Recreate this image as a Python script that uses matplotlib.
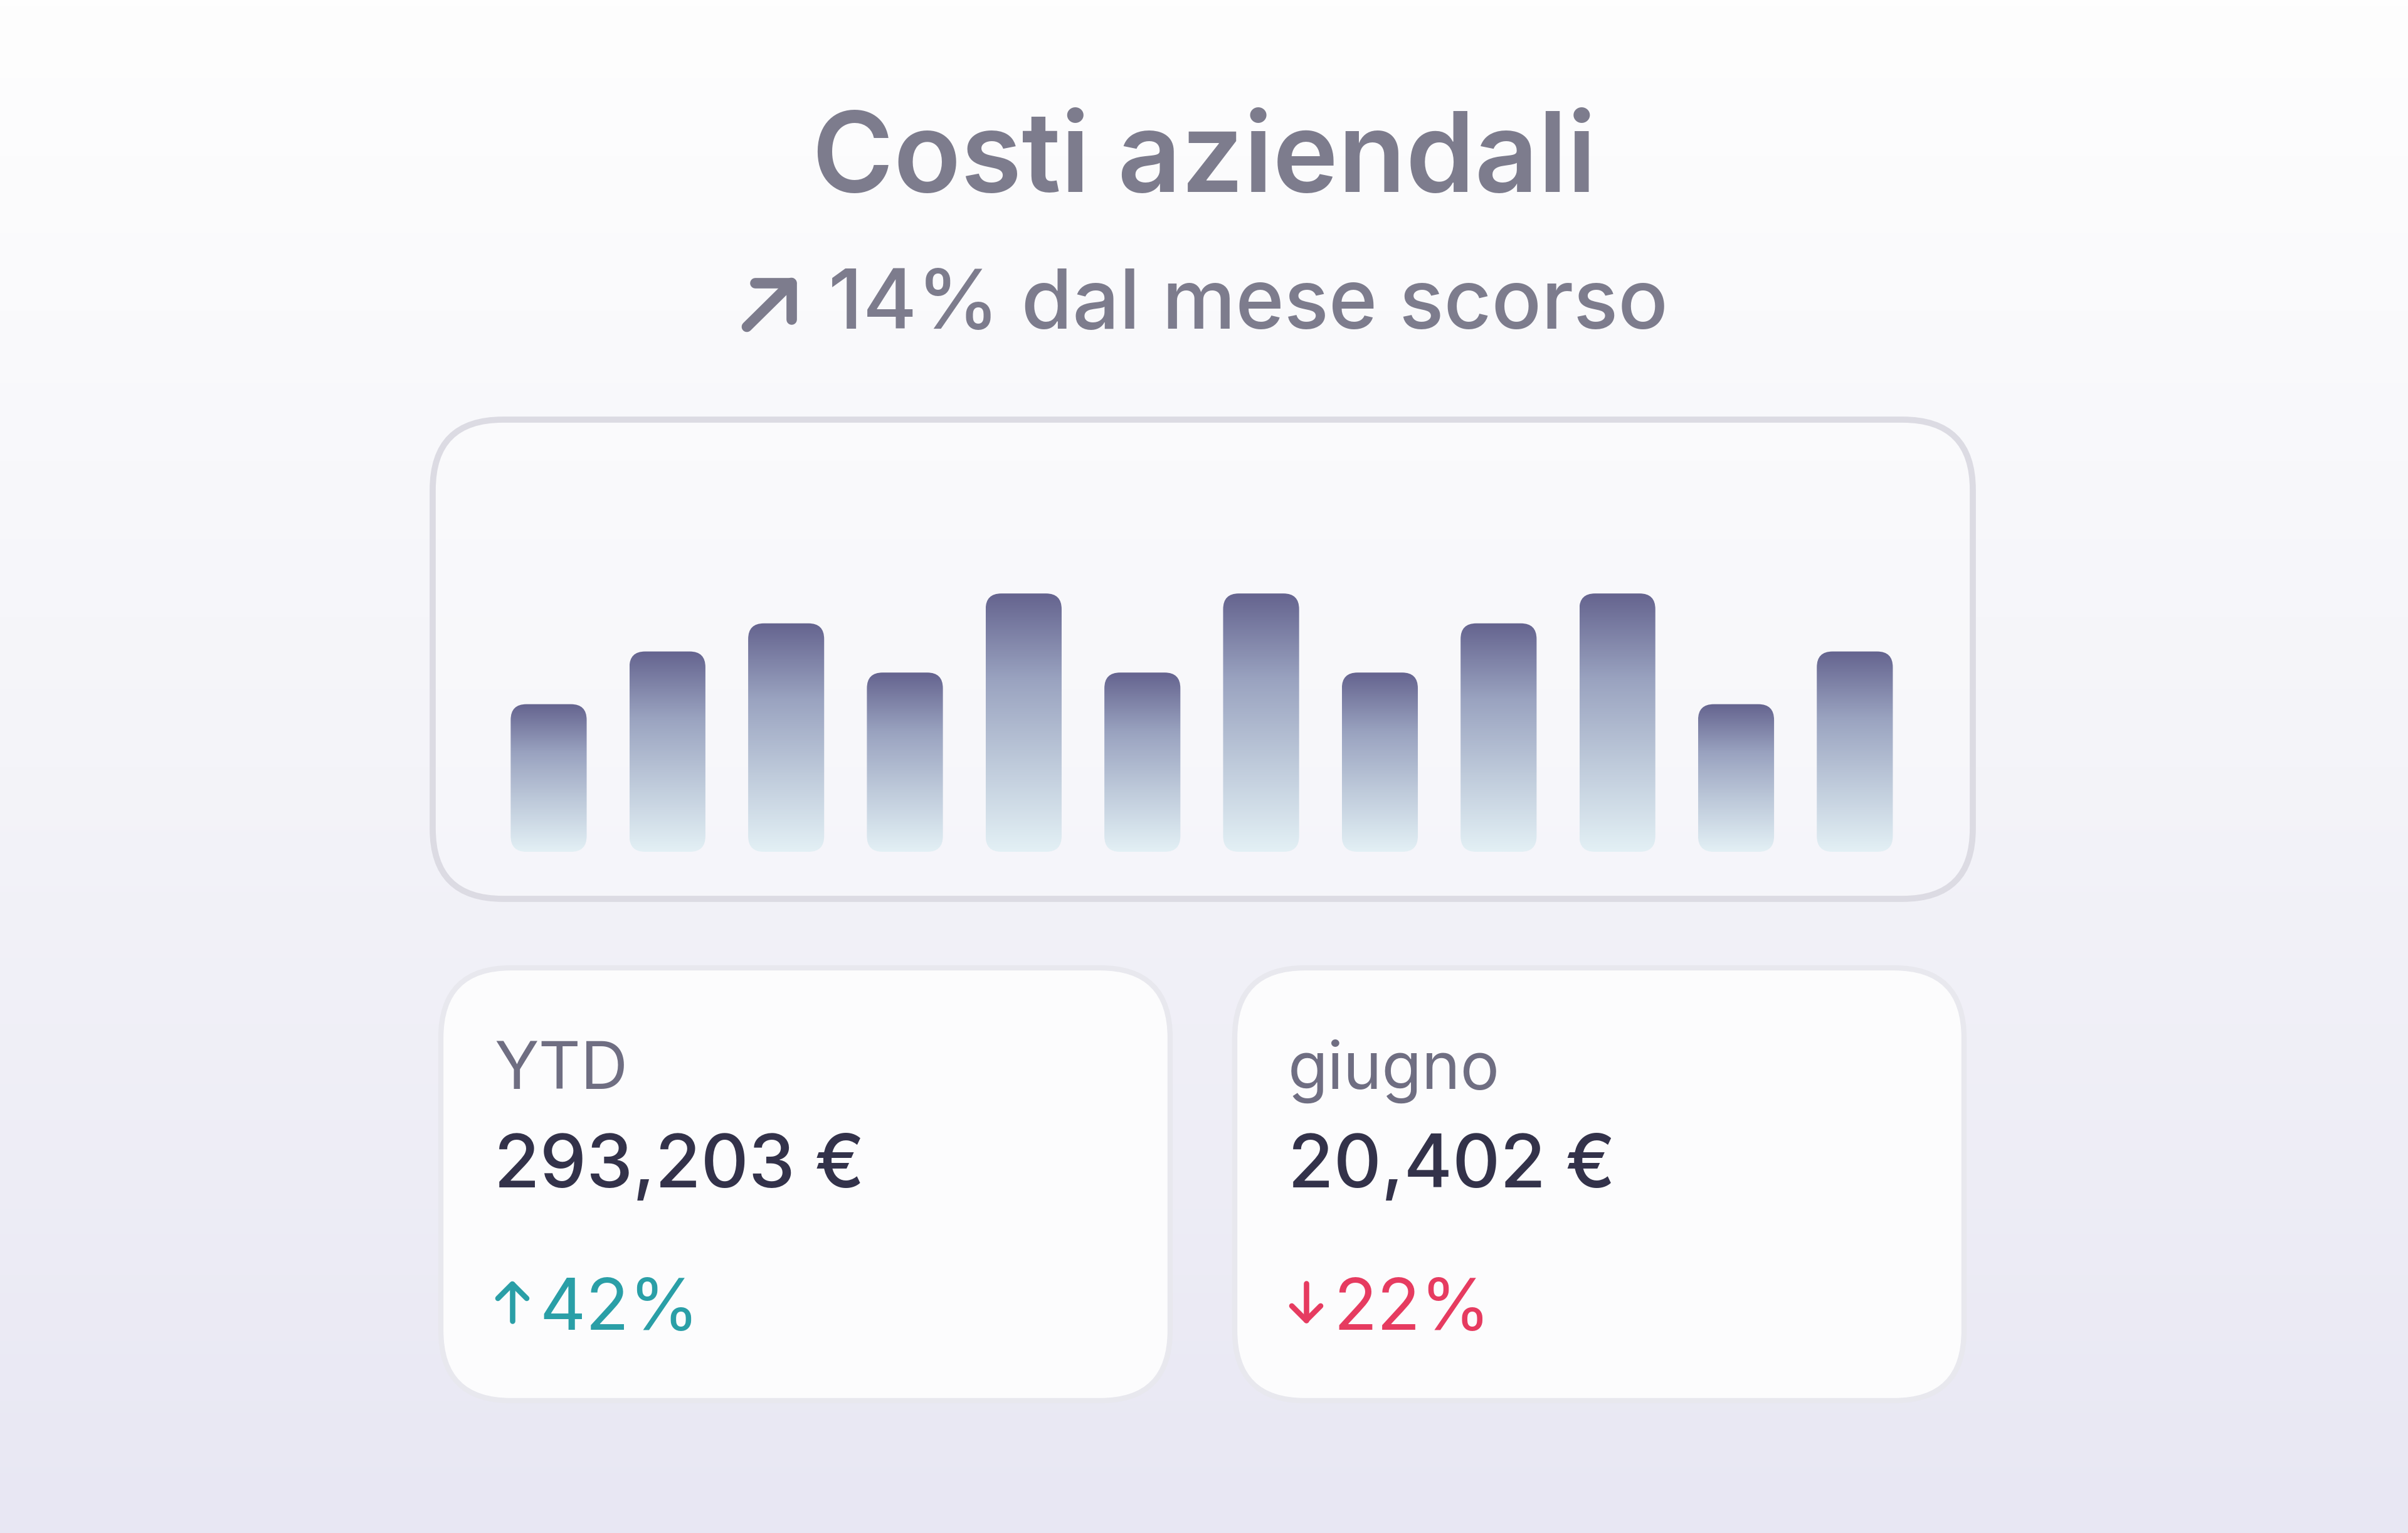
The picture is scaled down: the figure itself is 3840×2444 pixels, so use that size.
import numpy as np
import matplotlib
matplotlib.use("Agg")
import matplotlib.pyplot as plt
from matplotlib.patches import FancyBboxPatch
from matplotlib.colors import LinearSegmentedColormap
from matplotlib.lines import Line2D

# ---------------- data ----------------
months = ["gen", "feb", "mar", "apr", "mag", "giu", "lug", "ago", "set", "ott", "nov", "dic"]
costs = [16.8, 22.8, 26.0, 20.4, 29.4, 20.4, 29.4, 20.4, 26.0, 29.4, 16.8, 22.8]
title = "Costi aziendali"
subtitle = "14% dal mese scorso"
card_labels = ["YTD", "giugno"]
card_values = ["293,203 €", "20,402 €"]
card_changes = ["42%", "22%"]
card_dirs = ["up", "down"]

# ---------------- figure ----------------
W, H = 3840, 2444
DPI = 100
fig = plt.figure(figsize=(W / DPI, H / DPI), dpi=DPI)
FONT = ["Inter", "DejaVu Sans"]

# background layer in pixel coordinates (y downward)
bg = fig.add_axes([0, 0, 1, 1])
bg.axis("off")
grad = np.linspace(0, 1, 256).reshape(-1, 1)
bg_cmap = LinearSegmentedColormap.from_list("bg", ["#fefefe", "#f4f4f9", "#e8e7f3"])
bg.imshow(grad, cmap=bg_cmap, extent=[0, W, H, 0], aspect="auto", zorder=0)
bg.set_xlim(0, W)
bg.set_ylim(H, 0)

# chart panel
panel = FancyBboxPatch((690, 669), 2456, 764, boxstyle="round,pad=0,rounding_size=112",
                       fc=(1, 1, 1, 0.3), ec="#dcdbe3", lw=7.0, zorder=1)
bg.add_patch(panel)

# cards
card_x = [703, 1969]
card_y = 1543
card_w = 1163
card_h = 690
for cx in card_x:
    bg.add_patch(FancyBboxPatch((cx, card_y), card_w, card_h,
                                boxstyle="round,pad=0,rounding_size=112",
                                fc="#fcfcfd", ec="#e8e8ee", lw=6.0, zorder=1))

# title & subtitle
bg.text(1920, 306, title, ha="center", va="baseline", fontsize=127,
        fontweight="semibold", color="#7d7c8d", family=FONT, zorder=3)
bg.text(1321, 524, subtitle, ha="left", va="baseline", fontsize=95,
        fontweight="medium", color="#7d7c8d", family=FONT, zorder=3)
# north-east arrow
arrow_kw = dict(color="#7d7c8d", lw=12, solid_capstyle="round", solid_joinstyle="round", zorder=3)
bg.add_line(Line2D([1191, 1262], [521, 451], **arrow_kw))
bg.add_line(Line2D([1204, 1262, 1262], [451, 451, 509], **arrow_kw))

# card texts
change_colors = {"up": "#2a9fa7", "down": "#e63b60"}
for cx, lab, val, chg, d in zip(card_x, card_labels, card_values, card_changes, card_dirs):
    tx = cx + 85
    bg.text(tx, 1736, lab, ha="left", va="baseline", fontsize=75,
            color="#6f6e82", family=FONT, zorder=3)
    bg.text(tx, 1893, val, ha="left", va="baseline", fontsize=85,
            fontweight="medium", color="#33324a", family=FONT, zorder=3)
    bg.text(cx + 157, 2120, chg, ha="left", va="baseline", fontsize=82,
            color=change_colors[d], family=FONT, zorder=3)
    ax_c = cx + 114
    kw = dict(color=change_colors[d], lw=6.2, solid_capstyle="round", solid_joinstyle="round", zorder=3)
    if d == "up":
        bg.add_line(Line2D([ax_c, ax_c], [2106, 2047], **kw))
        bg.add_line(Line2D([ax_c - 23, ax_c, ax_c + 23], [2070, 2047, 2070], **kw))
    else:
        bg.add_line(Line2D([ax_c, ax_c], [2046, 2105], **kw))
        bg.add_line(Line2D([ax_c - 23, ax_c, ax_c + 23], [2082, 2105, 2082], **kw))

# ---------------- bars ----------------
ax_l, ax_r = 700, 3140
ax_bot, ax_top = 1358, 680
ax = fig.add_axes([ax_l / W, (H - ax_bot) / H, (ax_r - ax_l) / W, (ax_bot - ax_top) / H])
ax.axis("off")
xmin, xmax = -0.924, 11.962
ymax = 48.4
x = np.arange(len(months))
bars = ax.bar(x, costs, width=0.64, color="none", edgecolor="none")

bar_cmap = LinearSegmentedColormap.from_list("bar", ["#e3f0f5", "#bfcbdb", "#9aa3c0", "#65648f"])
px_per_x = (ax_r - ax_l) / (xmax - xmin)
px_per_y = (ax_bot - ax_top) / ymax
r_px = 25
aspect = px_per_x / px_per_y
for rect in bars:
    bx, bw, bh = rect.get_x(), rect.get_width(), rect.get_height()
    clip = FancyBboxPatch((bx, 0), bw, bh, boxstyle=f"round,pad=0,rounding_size={r_px / px_per_x}",
                          mutation_aspect=aspect, transform=ax.transData, fc="none", ec="none")
    ax.add_patch(clip)
    im = ax.imshow(grad, cmap=bar_cmap, extent=[bx, bx + bw, 0, bh], origin="lower",
                   aspect="auto", zorder=2, interpolation="bilinear")
    im.set_clip_path(clip)
ax.set_xlim(xmin, xmax)
ax.set_ylim(0, ymax)

fig.savefig("out.png", dpi=DPI)
